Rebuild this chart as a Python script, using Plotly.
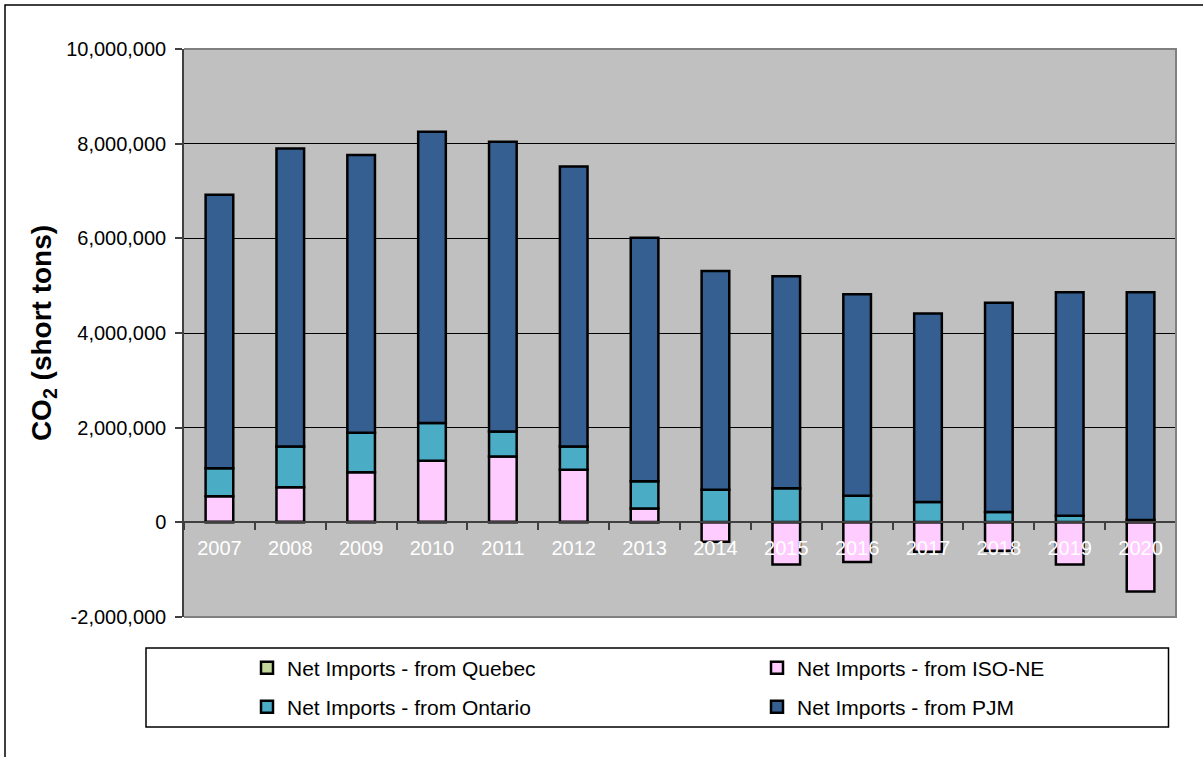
import plotly.graph_objects as go

years = ["2007", "2008", "2009", "2010", "2011", "2012", "2013",
         "2014", "2015", "2016", "2017", "2018", "2019", "2020"]

# short tons of CO2
quebec = [10000, 10000, 10000, 10000, 10000, 10000, 5000,
          5000, 5000, 5000, 5000, 5000, 5000, 5000]
iso_ne = [540000, 730000, 1050000, 1290000, 1380000, 1100000, 285000,
          -410000, -890000, -840000, -620000, -600000, -890000, -1460000]
ontario = [590000, 860000, 830000, 800000, 530000, 490000, 580000,
           685000, 715000, 555000, 425000, 215000, 135000, 45000]
pjm = [5780000, 6300000, 5870000, 6150000, 6120000, 5920000, 5140000,
       4620000, 4480000, 4260000, 3980000, 4420000, 4720000, 4810000]

series_names = ["Net Imports - from Quebec", "Net Imports - from ISO-NE",
                "Net Imports - from Ontario", "Net Imports - from PJM"]
series_colors = ["#C3D69B", "#FFCCFF", "#4BACC6", "#355E91"]

y_min, y_max = -2000000, 10000000
y_ticks = [-2000000, 0, 2000000, 4000000, 6000000, 8000000, 10000000]
y_ticktext = ["{:,}".format(v) for v in y_ticks]

W, H = 1203, 757
L, R, T, B = 184, 27, 49, 140
PW, PH = W - L - R, H - T - B


def px_x(p):
    return (p - L) / PW


def px_y(p):
    return (H - B - p) / PH


# legend slot for each series (x of entry start, y of row centre), in pixels
legend_slots = [(247, 668), (757, 668), (247, 707), (757, 707)]
legend_ids = ["legend", "legend2", "legend3", "legend4"]

fig = go.Figure()
for vals, name, col, lg in zip([quebec, iso_ne, ontario, pjm], series_names,
                               series_colors, legend_ids):
    fig.add_trace(go.Bar(
        x=years, y=vals, name=name, legend=lg,
        marker=dict(color=col, line=dict(color="black", width=2.5)),
        width=0.39,
    ))

zero_pos = (0 - y_min) / (y_max - y_min)

fig.update_layout(
    width=W, height=H,
    margin=dict(l=L, r=R, t=T, b=B, autoexpand=False),
    barmode="relative",
    paper_bgcolor="white",
    plot_bgcolor="#C0C0C0",
    font=dict(family="Arial, Liberation Sans, sans-serif", size=20, color="black"),
    showlegend=True,
)
for lg, (lx, ly) in zip(legend_ids, legend_slots):
    fig.update_layout({lg: dict(orientation="h", x=px_x(lx), y=px_y(ly),
                                xanchor="left", yanchor="middle",
                                bgcolor="rgba(0,0,0,0)", borderwidth=0,
                                font=dict(size=21), itemclick=False)})

fig.update_xaxes(
    type="category", anchor="free", position=zero_pos,
    showline=True, linecolor="#404040", linewidth=1.5,
    ticks="outside", tickson="boundaries", ticklen=7, tickcolor="#404040", tickwidth=1.5,
    tickfont=dict(color="white", size=20), ticklabelstandoff=8,
    showgrid=False, zeroline=False,
)
fig.update_yaxes(
    range=[y_min, y_max], tickvals=y_ticks, ticktext=y_ticktext,
    showline=True, linecolor="#404040", linewidth=1.5,
    ticks="outside", ticklen=7, tickcolor="#404040", tickwidth=1.5,
    showgrid=True, gridcolor="#000000", gridwidth=1,
    zeroline=False, tickfont=dict(size=20), ticklabelstandoff=5,
    automargin=False,
    title=dict(text="<b>CO<sub>2</sub> (short tons)</b>", font=dict(size=28), standoff=6),
)

# plot area border (top, right, bottom), legend frame, outer frame
fig.add_shape(type="path", xref="paper", yref="paper", path="M0,1 L1,1 L1,0 L0,0",
              line=dict(color="#808080", width=2), layer="above")
fig.add_shape(type="rect", xref="paper", yref="paper",
              x0=px_x(146), x1=px_x(1168.5), y0=px_y(727), y1=px_y(648),
              line=dict(color="black", width=1.5))
fig.add_shape(type="rect", xref="paper", yref="paper",
              x0=px_x(5), x1=px_x(1230), y0=px_y(790), y1=px_y(5),
              line=dict(color="black", width=1.5))

fig.write_html("out.html", config={"displayModeBar": False},
               post_script="document.body.style.margin='0';")
